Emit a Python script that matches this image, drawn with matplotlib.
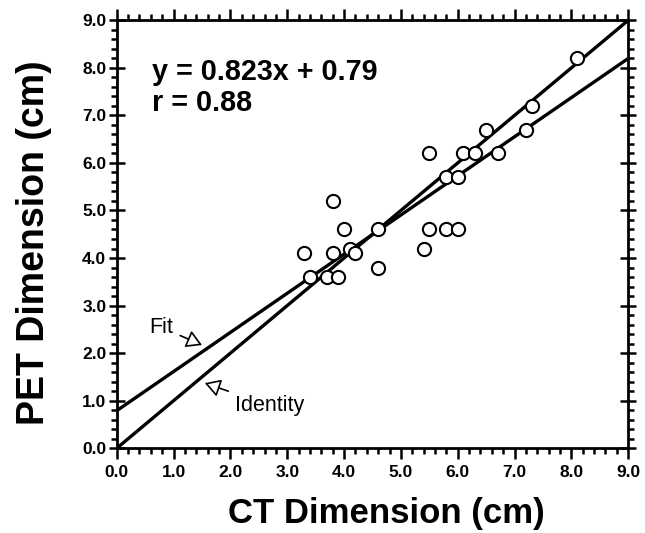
import numpy as np
import matplotlib
matplotlib.use('Agg')
import matplotlib.pyplot as plt
from matplotlib.ticker import MultipleLocator, FormatStrFormatter

plt.rcParams['font.family'] = ['Liberation Sans', 'DejaVu Sans']

# CT vs PET dimensions (cm)
ct = [3.3, 3.4, 3.7, 3.8, 3.8, 3.9, 4.0, 4.1, 4.2,
      4.6, 4.6, 5.4, 5.5, 5.5, 5.8, 5.8, 6.0, 6.0, 6.1,
      6.3, 6.5, 6.7, 7.2, 7.3, 8.1]
pet = [4.1, 3.6, 3.6, 5.2, 4.1, 3.6, 4.6, 4.2, 4.1,
       4.6, 3.8, 4.2, 6.2, 4.6, 5.7, 4.6, 5.7, 4.6, 6.2,
       6.2, 6.7, 6.2, 6.7, 7.2, 8.2]

slope = 0.823
intercept = 0.79
line_x = [0.0, 9.0]

fig = plt.figure(figsize=(6.45, 5.33), dpi=100)
ax = fig.add_axes([0.181, 0.159, 0.793, 0.803])

fit_y = [slope * v + intercept for v in line_x]
ax.plot(line_x, fit_y, color='black', lw=2.4, solid_capstyle='butt', zorder=2)
ax.plot(line_x, line_x, color='black', lw=2.4, solid_capstyle='butt', zorder=2)
ax.scatter(ct, pet, s=90, facecolors='white', edgecolors='black',
           linewidths=1.5, zorder=3)

ax.set_xlim(0, 9)
ax.set_ylim(0, 9)
for s in ax.spines.values():
    s.set_linewidth(2)

ax.xaxis.set_major_locator(MultipleLocator(1))
ax.xaxis.set_minor_locator(MultipleLocator(0.2))
ax.yaxis.set_major_locator(MultipleLocator(1))
ax.yaxis.set_minor_locator(MultipleLocator(0.2))
ax.xaxis.set_major_formatter(FormatStrFormatter('%.1f'))
ax.yaxis.set_major_formatter(FormatStrFormatter('%.1f'))

ax.tick_params(which='both', top=True, right=True, direction='out', width=1.8)
ax.tick_params(which='major', length=8)
ax.tick_params(which='minor', length=4.5)
ax.tick_params(axis='y', which='major', left=True, direction='inout', length=11)
for lab in ax.get_xticklabels() + ax.get_yticklabels():
    lab.set_fontweight('bold')
    lab.set_fontsize(12.5)
ax.tick_params(axis='x', pad=4)
ax.tick_params(axis='y', pad=2)

ax.set_xlabel('CT Dimension (cm)', fontsize=25, fontweight='bold', labelpad=12)
ax.set_ylabel('PET Dimension (cm)', fontsize=27, fontweight='bold', labelpad=22)
ax.xaxis.label.set_x(0.527)
ax.yaxis.label.set_y(0.48)

ax.text(0.62, 7.74, 'y = 0.823x + 0.79', fontsize=20.7, fontweight='bold',
        va='baseline', ha='left')
ax.text(0.62, 7.1, 'r = 0.88', fontsize=20.7, fontweight='bold',
        va='baseline', ha='left')

arrow = dict(arrowstyle='-|>,head_length=0.6,head_width=0.35', fc='white',
             ec='black', lw=1.2, shrinkA=3, shrinkB=0)
ax.annotate('Fit', xy=(1.5, 2.17), xytext=(0.79, 2.54), fontsize=15.5,
            ha='center', va='center', arrowprops=arrow)
ax.annotate('Identity', xy=(1.55, 1.37), xytext=(2.69, 0.9), fontsize=15.5,
            ha='center', va='center', arrowprops=arrow)

fig.savefig('out.png', dpi=100)
